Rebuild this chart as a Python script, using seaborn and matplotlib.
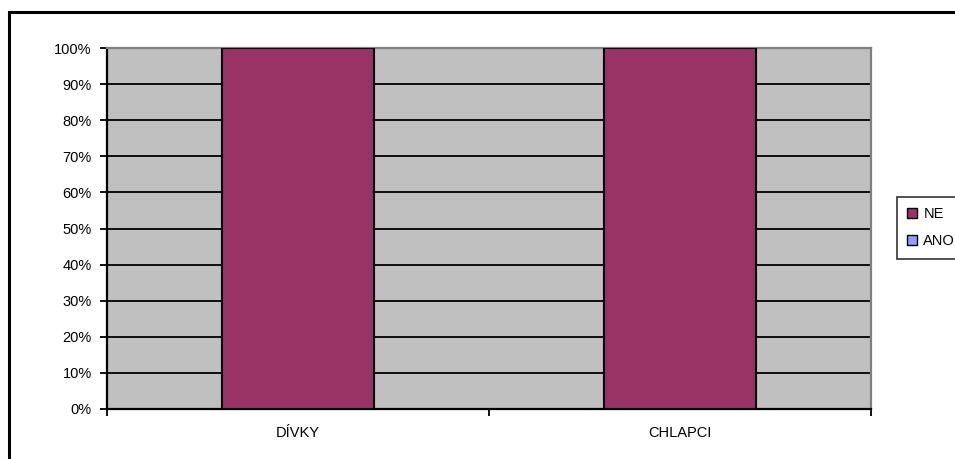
import matplotlib
matplotlib.use("Agg")
import matplotlib.pyplot as plt
import seaborn as sns
import pandas as pd
from matplotlib.patches import Rectangle, Patch

# data (percent of group)
groups = ["DÍVKY", "CHLAPCI"]
ne_values = [100, 100]
ano_values = [0, 0]
y_ticks = list(range(0, 101, 10))

df = pd.DataFrame({"group": groups, "NE": ne_values, "ANO": ano_values})
df["total"] = df["ANO"] + df["NE"]

ne_color = "#993366"
ano_color = "#9999FF"

sns.set_style("white")
plt.rcParams["font.family"] = ["Liberation Sans", "DejaVu Sans"]
plt.rcParams["font.size"] = 10.5
plt.rcParams["text.color"] = "black"
plt.rcParams["xtick.color"] = "black"
plt.rcParams["ytick.color"] = "black"

fig = plt.figure(figsize=(9.55, 4.59), dpi=100)
ax = fig.add_axes([107 / 955, 50 / 459, 764 / 955, 361 / 459])
ax.set_facecolor("#C0C0C0")

# stacked: ANO at bottom, NE on top
sns.barplot(data=df, x="group", y="total", color=ne_color, width=0.4,
            edgecolor="black", linewidth=1.5, saturation=1, ax=ax, zorder=3)
sns.barplot(data=df, x="group", y="ANO", color=ano_color, width=0.4,
            edgecolor="black", linewidth=0, saturation=1, ax=ax, zorder=3)

ax.set_ylim(0, 100)
ax.set_xlim(-0.5, len(groups) - 0.5)
ax.set_yticks(y_ticks)
ax.set_yticklabels([f"{v}%" for v in y_ticks])
ax.yaxis.grid(True, color="black", linewidth=1.3, zorder=1)
ax.set_axisbelow(True)

# ticks at category boundaries, labels at centres
ax.set_xticks([i - 0.5 for i in range(len(groups) + 1)])
ax.set_xticklabels([])
ax.set_xticks(range(len(groups)), minor=True)
ax.set_xticklabels(groups, minor=True)
ax.tick_params(axis="x", which="minor", length=0, pad=12)
ax.tick_params(axis="x", which="major", length=5, width=1.3, direction="out", bottom=True)
ax.tick_params(axis="y", length=5, width=1.3, direction="out", left=True, pad=6)
ax.set_xlabel("")
ax.set_ylabel("")

for side in ["left", "bottom"]:
    ax.spines[side].set_color("black")
    ax.spines[side].set_linewidth(1.6)
for side in ["top", "right"]:
    ax.spines[side].set_color("#808080")
    ax.spines[side].set_linewidth(1.6)

handles = [Patch(facecolor=ne_color, edgecolor="black", label="NE"),
           Patch(facecolor=ano_color, edgecolor="black", label="ANO")]
leg = fig.legend(handles=handles, loc="upper left",
                 bbox_to_anchor=(897 / 955, 1 - 197 / 459),
                 frameon=True, fancybox=False, handlelength=0.7, handleheight=0.7,
                 handletextpad=0.4, labelspacing=0.9, borderpad=0.7,
                 borderaxespad=0)
leg.get_frame().set_edgecolor("black")
leg.get_frame().set_linewidth(1.2)

# outer chart border
fig.patches.append(Rectangle((9 / 955, -0.1), 1.2, 1.1 - 12 / 459,
                             transform=fig.transFigure, fill=False,
                             edgecolor="black", linewidth=2.2))

fig.savefig("out.png", dpi=100)
